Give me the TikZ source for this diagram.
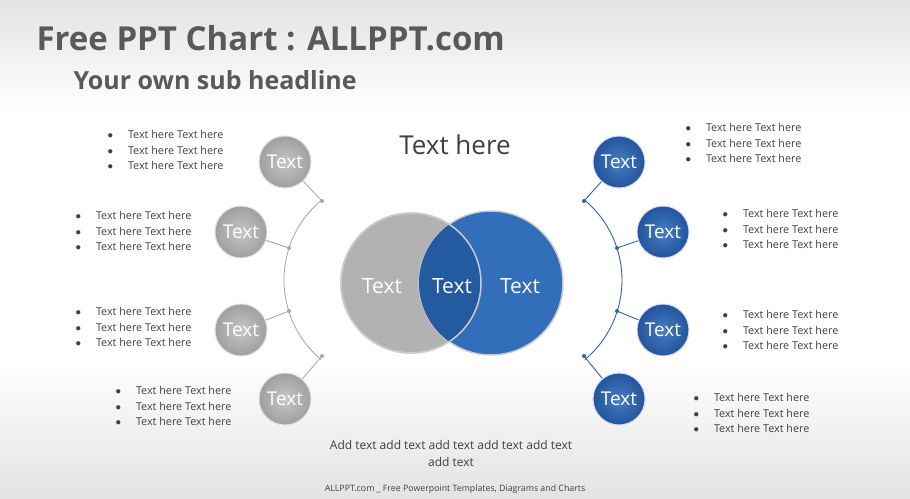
\documentclass[tikz,border=0pt]{standalone}
\usepackage{fontspec}
\setmainfont{Open Sans}
\definecolor{dk}{RGB}{64,64,64}
\definecolor{tg}{RGB}{89,89,89}
\definecolor{bA}{RGB}{70,125,195}
\definecolor{bB}{RGB}{35,85,155}
\definecolor{bC}{RGB}{50,110,185}
\definecolor{bD}{RGB}{35,90,160}
\definecolor{bL}{RGB}{50,100,170}
\begin{document}
\begin{tikzpicture}[x=1pt,y=-1pt,
  gball/.style={circle,minimum size=52pt,inner sep=0pt,shade,inner color=gray!45,outer color=gray!75,draw=gray!25,line width=1pt,text=white,font=\fontsize{19}{19}\selectfont},
  bball/.style={circle,minimum size=52pt,inner sep=0pt,shade,inner color=bA,outer color=bB,draw=blue!15,line width=1pt,text=white,font=\fontsize{19}{19}\selectfont},
  bul/.style={align=left,font=\fontsize{10.8}{15.2}\selectfont,text=dk},
  dotp/.style={circle,fill,inner sep=0pt,minimum size=4pt},
  gl/.style={draw=gray!70,line width=0.8pt},
  bl/.style={draw=bL,line width=0.9pt},
  vt/.style={text=white,font=\fontsize{21}{21}\selectfont}]
\useasboundingbox (0,0) rectangle (910,498);
\shade[top color=gray!22,bottom color=white] (0,0) rectangle (910,110);
\fill[white] (0,110) rectangle (910,360);
\shade[top color=white,bottom color=gray!22] (0,360) rectangle (910,498);
\node[anchor=west,font=\bfseries\fontsize{33}{33}\selectfont,text=tg] (t) at (33,38) {Free PPT Chart : ALLPPT.com};
\node[anchor=west,font=\bfseries\fontsize{25}{25}\selectfont,text=tg] (s) at (70,80) {Your own sub headline};
\node[font=\fontsize{26}{26}\selectfont,text=dk] (th) at (455,145) {Text here};
% venn
\fill[gray!60,draw=gray!35,line width=1.5pt] (411,283) circle (70);
\fill[bC,draw=gray!40,line width=1.5pt] (491,283) circle (72);
\begin{scope}
\clip (411,283) circle (70);
\fill[bD] (491,283) circle (72);
\end{scope}
\draw[gray!40,line width=1.5pt] (411,283) circle (70);
\node[vt] (v1) at (382,286) {Text};
\node[vt] (v2) at (452,286) {Text};
\node[vt] (v3) at (520,286) {Text};
% left arc
\draw[gl] (388,280) ++(130:104) arc[start angle=130,end angle=230,radius=104];
\coordinate (la) at (322,201); \coordinate (lb) at (289,248);
\coordinate (lc) at (289,311); \coordinate (ld) at (322,356);
\foreach \p in {la,lb,lc,ld} \node[dotp,gray!70] at (\p) {};
\node[gball] (L1) at (285,162) {Text};
\node[gball] (L2) at (241,232) {Text};
\node[gball] (L3) at (241,330) {Text};
\node[gball] (L4) at (285,399) {Text};
\draw[gl] (L1) -- (la); \draw[gl] (L2) -- (lb); \draw[gl] (L3) -- (lc); \draw[gl] (L4) -- (ld);
% right arc
\draw[bl] (518,280) ++(50:104) arc[start angle=50,end angle=-50,radius=104];
\coordinate (ra) at (584,201); \coordinate (rb) at (617,248);
\coordinate (rc) at (617,311); \coordinate (rd) at (584,356);
\foreach \p in {ra,rb,rc,rd} \node[dotp,bL] at (\p) {};
\node[bball] (R1) at (619,162) {Text};
\node[bball] (R2) at (663,232) {Text};
\node[bball] (R3) at (663,330) {Text};
\node[bball] (R4) at (619,399) {Text};
\draw[bl] (R1) -- (ra); \draw[bl] (R2) -- (rb); \draw[bl] (R3) -- (rc); \draw[bl] (R4) -- (rd);
% bullets
\def\bt{$\bullet$\hspace{15pt}Text here Text here\\$\bullet$\hspace{15pt}Text here Text here\\$\bullet$\hspace{15pt}Text here Text here}
\node[bul,anchor=west] (b1) at (104,150) {\bt};
\node[bul,anchor=west] (b2) at (72,231) {\bt};
\node[bul,anchor=west] (b3) at (72,327) {\bt};
\node[bul,anchor=west] (b4) at (112,406) {\bt};
\node[bul,anchor=west] (b5) at (682,143) {\bt};
\node[bul,anchor=west] (b6) at (719,229) {\bt};
\node[bul,anchor=west] (b7) at (719,330) {\bt};
\node[bul,anchor=west] (b8) at (690,413) {\bt};
\node[align=center,font=\fontsize{12}{17}\selectfont,text=dk] (ad) at (451,453) {Add text add text add text add text add text\\add text};
\node[font=\fontsize{8.8}{8.8}\selectfont,text=dk] (ft) at (455,489) {ALLPPT.com \_ Free Powerpoint Templates, Diagrams and Charts};
\end{tikzpicture}
\end{document}
